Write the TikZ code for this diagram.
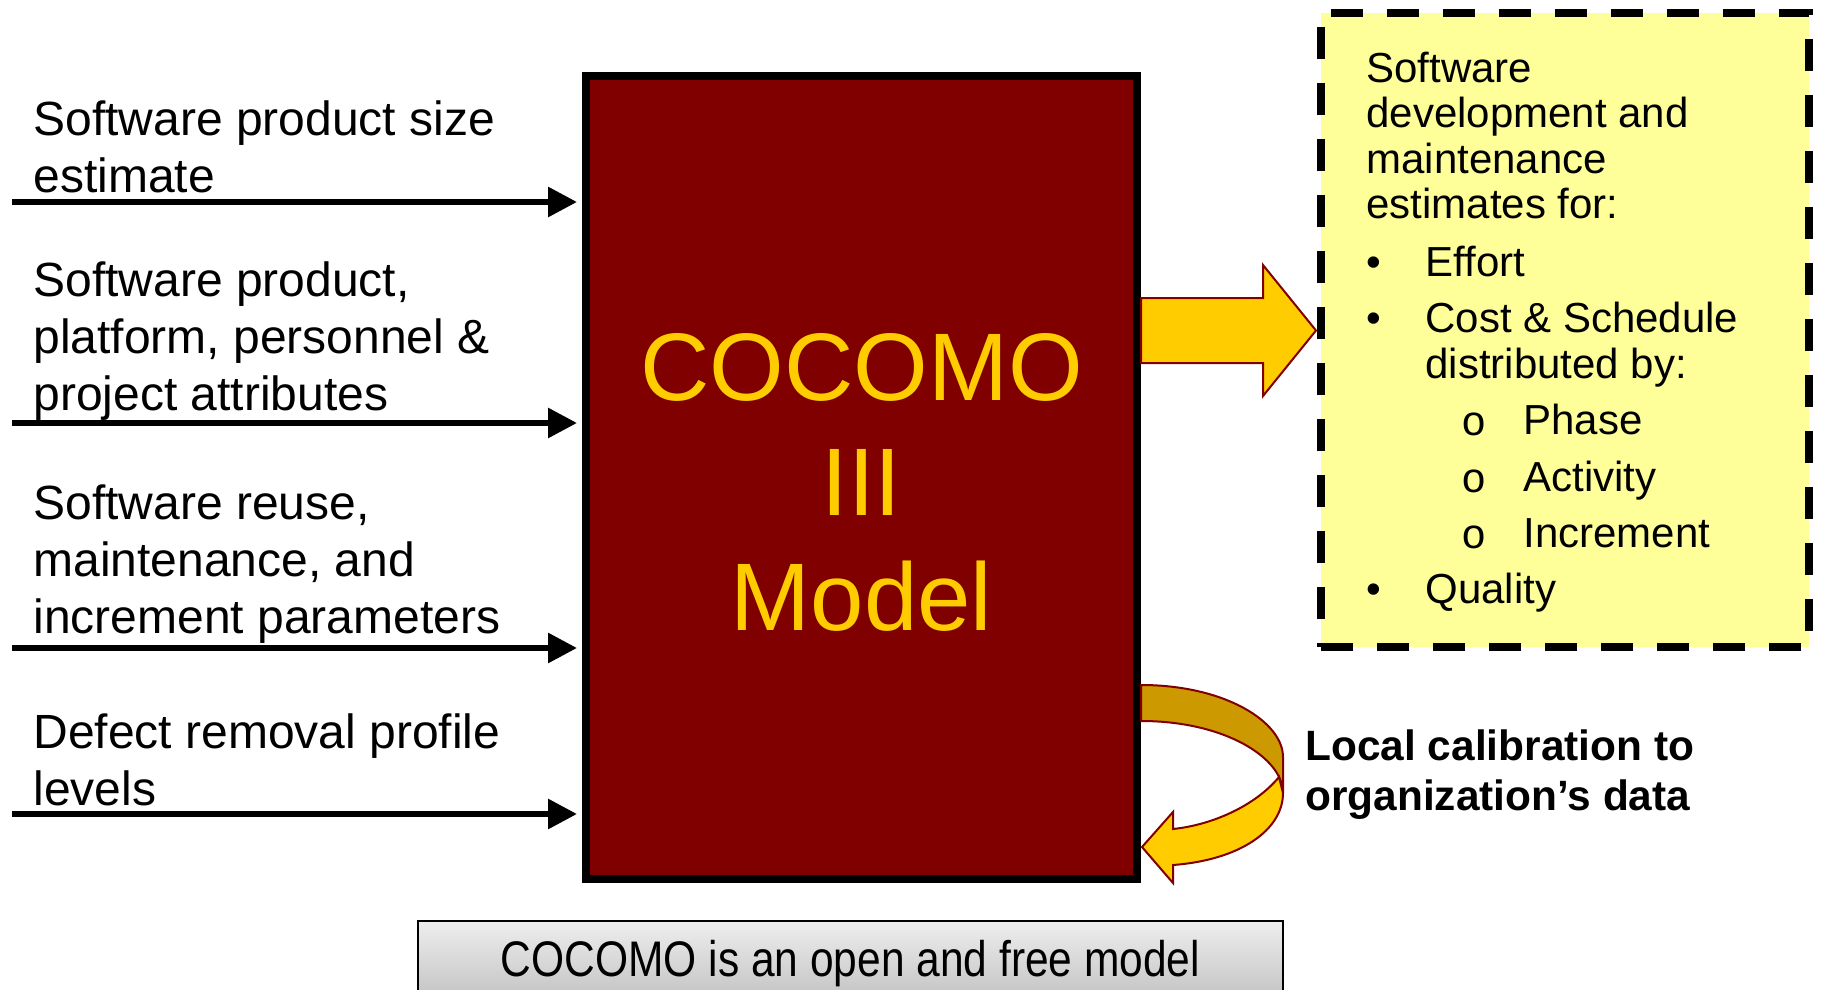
\documentclass[tikz,border=0pt]{standalone}
\usepackage{fontspec}
\setmainfont{Liberation Sans}
\newfontfamily\narrowfont[FakeStretch=0.85]{Liberation Sans}
\newfontfamily\cocomono{Liberation Mono}
\usetikzlibrary{arrows.meta}
\definecolor{cocored}{HTML}{800000}
\definecolor{cocogold}{HTML}{FFCC00}
\definecolor{cocodark}{HTML}{CC9900}
\definecolor{paleyellow}{HTML}{FFFF99}
\definecolor{greytop}{HTML}{EEEEEE}
\definecolor{greybot}{HTML}{BDBDBD}
\newcommand\cocostrut{\rule{0pt}{0.8em}}
\begin{document}
\begin{tikzpicture}[x=0.5pt,y=-0.5pt,
  inlabel/.style={anchor=north west, inner sep=0pt, align=left, font=\fontsize{24pt}{28.5pt}\selectfont},
  inarrow/.style={line width=3pt, -{Triangle[length=14.5pt,width=14.5pt]}, shorten >=2.5pt},
  outtext/.style={anchor=north west, inner sep=0pt, align=left, font=\fontsize{21pt}{22.65pt}\selectfont},
  itemtext/.style={anchor=base west, inner sep=0pt, font=\fontsize{21pt}{23pt}\selectfont},
  itemtwo/.style={anchor=north west, inner sep=0pt, align=left, font=\fontsize{21pt}{23pt}\selectfont},
  dotbullet/.style={anchor=base, inner sep=0pt, font=\fontsize{21pt}{23pt}\selectfont},
  ringbullet/.style={anchor=base, inner sep=0pt, font=\cocomono\fontsize{21pt}{23pt}\selectfont},
  ribbon/.style={draw=cocored, line width=1pt, line join=miter},
]
\useasboundingbox (0,0) rectangle (1822,990);

% main model box
\node[draw=black, line width=4pt, fill=cocored, inner sep=0pt,
      minimum width=275.5pt, minimum height=401.5pt]
  (model) at (861.5,477.5) {};
\node[text=cocogold, align=center, inner sep=0pt, font=\fontsize{48pt}{57.5pt}\selectfont]
  (modeltext) at (861.5,482) {COCOMO\\III\\Model};

% input labels
\node[inlabel] (in1) at (33,96.6) {\cocostrut Software product size\\estimate};
\node[inlabel] (in2) at (33,257.6) {\cocostrut Software product,\\platform, personnel \&\\project attributes};
\node[inlabel] (in3) at (33,480.6) {\cocostrut Software reuse,\\maintenance, and\\increment parameters};
\node[inlabel] (in4) at (33,709.6) {\cocostrut Defect removal profile\\levels};

% input arrows
\coordinate (src1) at (12,202);
\coordinate (src2) at (12,423);
\coordinate (src3) at (12,648);
\coordinate (src4) at (12,814);
\draw[inarrow] (src1) -- (src1 -| model.west);
\draw[inarrow] (src2) -- (src2 -| model.west);
\draw[inarrow] (src3) -- (src3 -| model.west);
\draw[inarrow] (src4) -- (src4 -| model.west);

% output box
\node[draw=black, line width=4pt, dash pattern=on 16pt off 12pt, fill=paleyellow,
      minimum width=244pt, minimum height=317pt, inner sep=0pt]
  (outbox) at (1565,330) {};
\node[outtext] (head) at (1366,48.4) {\cocostrut Software\\development and\\maintenance\\estimates for:};
\node[dotbullet] (bu1) at (1374,276) {•};
\node[itemtext] (it1) at (1425,276) {Effort};
\node[dotbullet] (bu2) at (1374,332) {•};
\node[itemtwo] (it2) at (1425,298.4) {\cocostrut Cost \& Schedule\\distributed by:};
\node[ringbullet] (ri1) at (1474,435) {o};
\node[itemtext] (su1) at (1523,434) {Phase};
\node[ringbullet] (ri2) at (1474,492) {o};
\node[itemtext] (su2) at (1523,491) {Activity};
\node[ringbullet] (ri3) at (1474,548) {o};
\node[itemtext] (su3) at (1523,547) {Increment};
\node[dotbullet] (bu3) at (1374,603) {•};
\node[itemtext] (it3) at (1425,603) {Quality};

% block arrow to outputs
\draw[ribbon, fill=cocogold] (1141,298) -- (1263,298) -- (1263,265) -- (1316,330.5)
  -- (1263,396) -- (1263,363) -- (1141,363) -- cycle;

% calibration loop arrow
\draw[ribbon, fill=cocodark] (1141,685) .. controls (1225,685) and (1283,722) .. (1283,757)
  -- (1283,793) .. controls (1283,758) and (1225,721) .. (1141,721) -- cycle;
\draw[ribbon, fill=cocogold] (1279,777) .. controls (1255,806) and (1212,825) .. (1173,829)
  -- (1173,812) -- (1142,847) -- (1173,883) -- (1173,865)
  .. controls (1240,860) and (1283,830) .. (1283,793) -- cycle;
\node[anchor=north west, inner sep=0pt, align=left, font=\bfseries\fontsize{21.2pt}{25pt}\selectfont]
  (calib) at (1305,726) {\cocostrut Local calibration to\\organization’s data};

% bottom note
\node[draw=black, line width=1pt, top color=greytop, bottom color=greybot,
      minimum width=432.5pt, minimum height=44.5pt, inner sep=0pt]
  (notebox) at (850.5,965.5) {};
\node[anchor=base, inner sep=0pt, font=\narrowfont\fontsize{25pt}{30pt}\selectfont]
  (note) at (850.5,976) {COCOMO is an open and free model};
\end{tikzpicture}
\end{document}
